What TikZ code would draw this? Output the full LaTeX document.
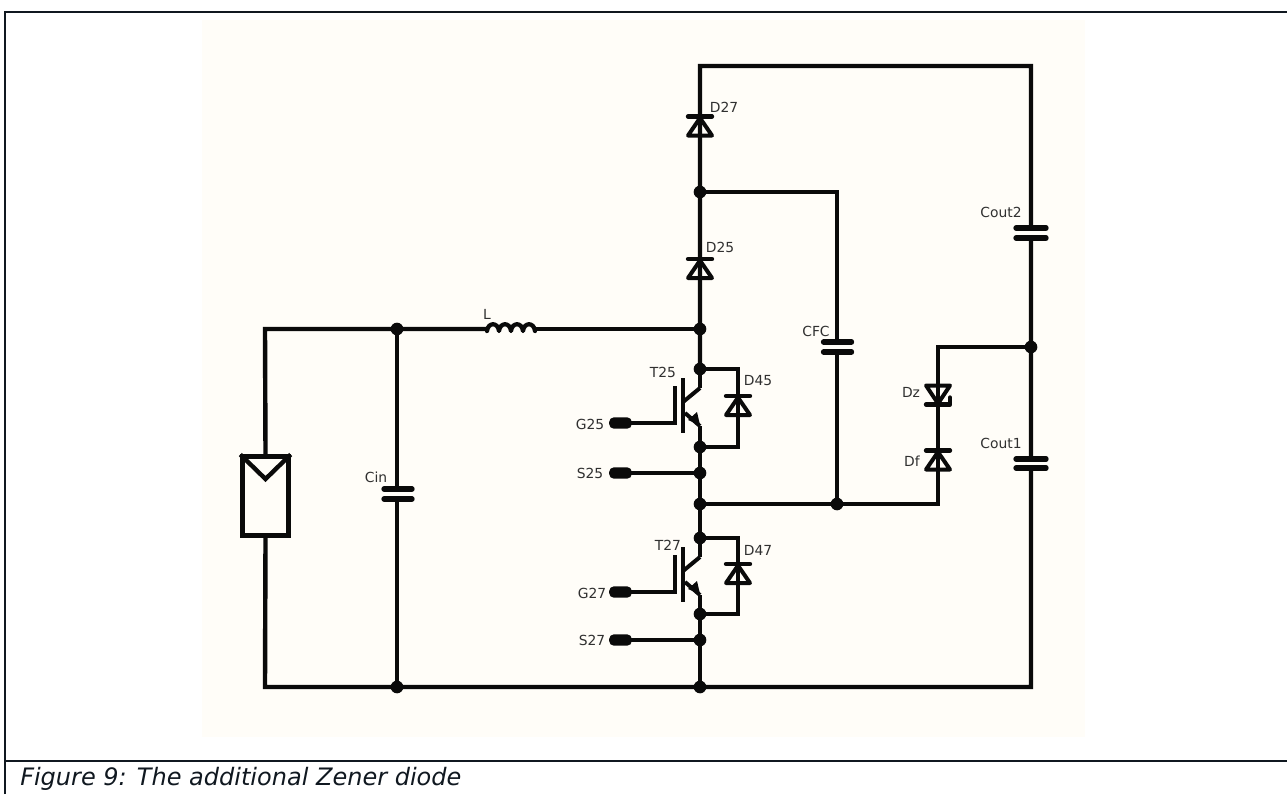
\documentclass[tikz,border=0pt]{standalone}
\usepackage{fontspec}
\setmainfont{DejaVu Sans}
\definecolor{framec}{HTML}{101820}
\definecolor{panelc}{HTML}{FFFDF8}
\definecolor{ink}{HTML}{0A0A0A}
\definecolor{labelc}{HTML}{303030}
\tikzset{
  x=0.75pt,y=-0.75pt,
  wire/.style={draw=ink,line width=3.3pt,line cap=butt,line join=miter},
  thin wire/.style={draw=ink,line width=2.7pt},
  junction/.style={circle,fill=ink,inner sep=0pt,minimum size=9.5pt},
  pad/.style={rectangle,rounded corners=3.5pt,fill=ink,inner sep=0pt,minimum width=17pt,minimum height=8.5pt},
  lbl/.style={font=\fontsize{10.4pt}{12pt}\selectfont,text=labelc,inner sep=0pt},
  capplate/.style={draw=ink,line width=4pt,line cap=round},
  diodeup/.pic={
    \draw[draw=ink,line width=3.3pt,line cap=round] (-12,-9.5) -- (12,-9.5);
    \draw[draw=ink,line width=3pt,line join=round] (0,-8) -- (12,9.5) -- (-12,9.5) -- cycle;
  },
  zenerdown/.pic={
    \draw[draw=ink,line width=3pt,line join=round] (0,9) -- (12,-9) -- (-12,-9) -- cycle;
    \draw[draw=ink,line width=3.3pt,line cap=round,line join=round] (-12,10) -- (12,10) -- (12,3);
  },
  igbt/.pic={
    \draw[draw=ink,line width=2.7pt] (-25,17) -- (-25,55.5);
    \draw[draw=ink,line width=2.7pt] (-17,9) -- (-17,64);
    \draw[draw=ink,line width=3pt] (-17,33) -- (0,19);
    \draw[draw=ink,line width=3pt] (-15,44) -- (0,57);
    \fill[ink] (0,56) -- (-3,43) -- (-12,51) -- cycle;
    \coordinate (-c) at (0,19);
    \coordinate (-e) at (0,57);
    \coordinate (-g) at (-25,54);
  }
}
\begin{document}
\begin{tikzpicture}
\useasboundingbox (0,0) rectangle (1287,794);
\fill[white] (0,0) rectangle (1287,794);
\fill[panelc] (202,20) rectangle (1085,737);
% frame
\draw[framec,line width=1.6pt] (5,794) -- (5,12) -- (1287,12);
\draw[framec,line width=1.6pt] (5,761) -- (1287,761);
\node[anchor=base west,inner sep=0pt,text=framec,font=\fontsize{18pt}{21pt}\itshape\selectfont] (caption) at (20,785) {Figure 9: The additional Zener diode};

% junctions
\foreach \n/\x/\y in {j192/700/192,j329/700/329,c397/397/329,j369/700/369,j447/700/447,j473/700/473,
  j504/700/504,j837/837/504,j538/700/538,j614/700/614,j640/700/640,b700/700/687,b397/397/687,r347/1031/347}
  \node[junction] (\n) at (\x,\y) {};
\coordinate (tl) at (700,66);
\coordinate (tr) at (1031,66);
\coordinate (br) at (1031,687);
\coordinate (bl) at (265,687);
\coordinate (tw) at (265,329);
\coordinate (cfct) at (837,192);
\coordinate (dzt) at (938,347);
\coordinate (dfb) at (938,504);

% PV panel
\node[draw=ink,line width=3.3pt,fill=panelc,inner sep=0pt,minimum width=34.5pt,minimum height=59pt] (pv) at (265.5,496) {};
\draw[draw=ink,line width=3.3pt,line join=miter] (pv.north west) -- (265.5,479) -- (pv.north east);

% inductor
\coordinate (lin) at (487,329);
\coordinate (lout) at (535,329);
\draw[draw=ink,line width=3.2pt,line cap=round,line join=round] (487,331)
  \foreach \i in {0,12,24,36} { .. controls (488+\i,322) and (498+\i,322) .. (499+\i,331) };

% wires
\draw[wire] (pv.north) -- (tw.center) -- (c397.center) -- (lin);
\draw[wire] (lout) -- (j329.center);
\draw[wire] (pv.south) -- (bl.center) -- (b397.center) -- (b700.center) -- (br.center) -- (r347.center) -- (tr.center) -- (tl.center) -- (j192.center) -- (j329.center) -- (j369.center);
\draw[wire] (c397.center) -- (b397.center);
\draw[wire] (j192.center) -- (cfct.center) -- (j837.center);
\draw[wire] (j447.center) -- (j538.center);
\draw[wire] (j614.center) -- (b700.center);
\draw[wire] (j504.center) -- (dfb.center) -- (dzt.center) -- (r347.center);

% parallel diodes
\draw[thin wire] (j369.center) -| (738,447) -- (j447.center);
\draw[thin wire] (j538.center) -| (738,614) -- (j614.center);

% transistors
\pic (t25) at (700,369) {igbt};
\pic (t27) at (700,538) {igbt};
\draw[wire] (j369.center) -- (t25-c);
\draw[wire] (t25-e) -- (j447.center);
\draw[wire] (j538.center) -- (t27-c);
\draw[wire] (t27-e) -- (j614.center);

% pads
\node[pad] (g25) at (620.5,423) {};
\node[pad] (s25) at (620.5,473) {};
\node[pad] (g27) at (620.5,592) {};
\node[pad] (s27) at (620.5,640) {};
\draw[thin wire] (g25.center) -- (t25-g);
\draw[thin wire] (g27.center) -- (t27-g);
\draw[thin wire] (s25.center) -- (j473.center);
\draw[thin wire] (s27.center) -- (j640.center);

% diodes
\pic at (700,126) {diodeup};
\pic at (700,268.5) {diodeup};
\pic at (738,405.5) {diodeup};
\pic at (738,573.5) {diodeup};
\pic at (938,460) {diodeup};
\pic at (938,394.5) {zenerdown};

% capacitors
\foreach \x/\a/\b/\h in {398/489/499/14,837.5/342/352/14,1031/228/238/15,1031/459/468/15}{
  \fill[panelc] (\x-10,\a+1) rectangle (\x+10,\b-1);
  \draw[capplate] (\x-\h,\a) -- (\x+\h,\a);
  \draw[capplate] (\x-\h,\b) -- (\x+\h,\b);
}

% labels
\node[lbl] (ld27) at (724,107) {D27};
\node[lbl] (ld25) at (720,247) {D25};
\node[lbl] (lt25) at (663,372) {T25};
\node[lbl] (ld45) at (758,381) {D45};
\node[lbl] (lg25) at (590,424) {G25};
\node[lbl] (ls25) at (590,473) {S25};
\node[lbl] (lt27) at (668,545) {T27};
\node[lbl] (ld47) at (758,550) {D47};
\node[lbl] (lg27) at (592,593) {G27};
\node[lbl] (ls27) at (592,640) {S27};
\node[lbl] (lcin) at (376,477) {Cin};
\node[lbl] (lcfc) at (816,331) {CFC};
\node[lbl] (lco2) at (1001,212) {Cout2};
\node[lbl] (lco1) at (1001,443) {Cout1};
\node[lbl] (ldz) at (911,392) {Dz};
\node[lbl] (ldf) at (912,461) {Df};
\node[lbl] (ll) at (487,314) {L};
\end{tikzpicture}
\end{document}
